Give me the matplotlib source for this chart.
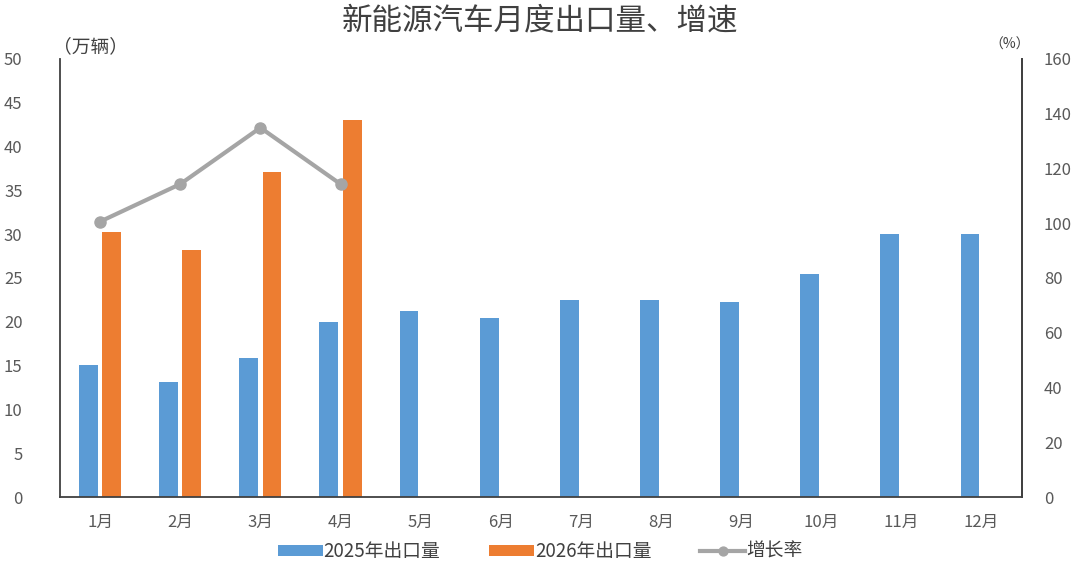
import matplotlib
matplotlib.use("Agg")
import matplotlib.pyplot as plt
import numpy as np

plt.rcParams['font.family'] = ['Noto Sans CJK SC', 'DejaVu Sans']

months = ['1月', '2月', '3月', '4月', '5月', '6月', '7月', '8月', '9月', '10月', '11月', '12月']
exports_2025 = [15.1, 13.1, 15.9, 20.0, 21.2, 20.4, 22.5, 22.5, 22.3, 25.5, 30.0, 30.0]
exports_2026 = [30.2, 28.2, 37.1, 43.0]
growth = [100.6, 114.3, 134.9, 114.3]
left_ticks = [0, 5, 10, 15, 20, 25, 30, 35, 40, 45, 50]
right_ticks = [0, 20, 40, 60, 80, 100, 120, 140, 160]

blue = '#5B9BD5'
orange = '#ED7D31'
gray = '#A5A5A5'
txt = '#595959'
spine = '#404040'

fig = plt.figure(figsize=(10.8, 5.72), dpi=100)
ax = fig.add_axes([0.0556, 0.1311, 0.8904, 0.7658])
x = np.arange(len(months))
w = 0.235
off = 0.145
b1 = ax.bar(x - off, exports_2025, width=w, color=blue, label='2025年出口量', zorder=2)
b2 = ax.bar(x[:len(exports_2026)] + off, exports_2026, width=w, color=orange, label='2026年出口量', zorder=2)
ax.set_xlim(-0.5, len(months) - 0.5)
ax.set_ylim(0, 50)
ax.set_yticks(left_ticks)
ax.set_xticks(x)
ax.set_xticklabels(months)
ax.tick_params(axis='both', length=0, colors=txt, labelsize=12)
ax.tick_params(axis='x', pad=12)
ax.tick_params(axis='y', pad=27)
ax.spines['top'].set_visible(False)
for s in ['left', 'bottom', 'right']:
    ax.spines[s].set_color(spine)
    ax.spines[s].set_linewidth(1.3)

ax2 = ax.twinx()
ax2.set_ylim(0, 160)
ax2.set_yticks(right_ticks)
ax2.tick_params(axis='y', length=0, colors=txt, labelsize=12, pad=16)
ax2.spines['top'].set_visible(False)
ax2.spines['right'].set_color(spine)
ax2.spines['right'].set_linewidth(1.3)
ax2.spines['left'].set_visible(False)
ax2.spines['bottom'].set_visible(False)
ln, = ax2.plot(x[:len(growth)], growth, color=gray, linewidth=3, marker='o', markersize=8, label='增长率', zorder=3)

fig.text(0.5, 0.963, '新能源汽车月度出口量、增速', ha='center', va='center', fontsize=22, color='#404040')
fig.text(0.049, 0.918, '（万辆）', ha='left', va='center', fontsize=13.5, color='#404040')
fig.text(0.954, 0.922, '（%）', ha='right', va='center', fontsize=10, color='#404040')

fig.legend(handles=[b1, b2, ln], labels=['2025年出口量', '2026年出口量', '增长率'],
           loc='center', bbox_to_anchor=(0.5, 0.036), ncol=3, frameon=False,
           fontsize=13.5, labelcolor='#404040', handlelength=2.4, handleheight=0.5,
           columnspacing=2.6, handletextpad=0.05, markerscale=0.8)

fig.savefig('out.png', dpi=100)
